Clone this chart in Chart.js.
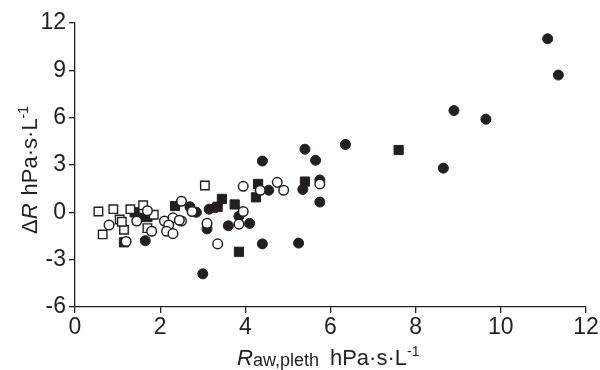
<!DOCTYPE html>
<html>
<head>
<meta charset="utf-8">
<script src="https://cdn.jsdelivr.net/npm/chart.js@4.4.0/dist/chart.umd.min.js"></script>
<style>
  html, body { margin: 0; padding: 0; background: #fff; }
  #wrap { width: 600px; height: 370px; }
</style>
</head>
<body>
<div id="wrap"><canvas id="chart" width="600" height="370"></canvas></div>
<script>
// tick labels
const xTicks = [0, 2, 4, 6, 8, 10, 12];
const yTicks = [-6, -3, 0, 3, 6, 9, 12];

// filled circles
const filledCircleX = [11.1, 11.35, 8.9, 9.65, 8.65, 6.35, 5.4, 5.65, 4.4, 5.75, 5.35, 5.75, 4.55, 5.25, 4.4, 3.0, 3.1, 3.6, 4.1, 3.85, 3.15, 3.3, 2.7, 2.85, 1.65, 1.5];
const filledCircleY = [11.0, 8.7, 6.45, 5.9, 2.8, 4.3, 4.0, 3.3, 3.25, 2.05, 1.45, 0.65, 1.4, -1.95, -2.0, -3.9, -1.05, -0.85, -0.7, -0.25, 0.2, 0.3, 0.35, 0.0, -1.8, -0.35];

// filled squares
const filledSquareX = [7.6, 5.4, 4.3, 4.25, 3.45, 3.35, 3.75, 3.85, 2.35, 1.4, 1.15, 1.7];
const filledSquareY = [3.95, 1.95, 1.8, 0.95, 0.85, 0.35, 0.5, -2.5, 0.4, 0.0, -1.9, -0.3];

// open circles
const openCircleX = [5.75, 4.75, 4.9, 4.35, 3.95, 3.95, 3.85, 3.1, 3.35, 2.5, 2.5, 2.75, 2.1, 2.3, 2.45, 2.2, 2.15, 2.3, 1.7, 1.45, 0.8, 1.8, 1.2];
const openCircleY = [1.8, 1.9, 1.4, 1.4, 1.65, 0.05, -0.75, -0.7, -2.0, 0.7, -0.55, 0.05, -0.55, -0.35, -0.5, -0.8, -1.2, -1.35, 0.1, -0.55, -0.8, -1.2, -1.85];

// open squares
const openSquareX = [0.55, 0.9, 1.05, 1.3, 1.6, 1.85, 1.15, 0.65, 1.7, 3.05, 1.1];
const openSquareY = [0.05, 0.2, -0.45, 0.2, 0.45, -0.15, -1.1, -1.4, -1.0, 1.7, -0.6];

const INK = '#231f20';
const FONT = "'Liberation Sans', Arial, sans-serif";

function pts(xs, ys) {
    return xs.map((x, i) => ({ x: x, y: ys[i] }));
}

// draws a row of text pieces one after another (italic, sub/superscript)
function drawRuns(ctx, runs, x0, y0) {
    let x = x0;
    runs.forEach(r => {
        ctx.font = `${r.italic ? 'italic ' : ''}${r.size}px ${FONT}`;
        ctx.fillText(r.text, x, y0 + (r.dy || 0));
        x += ctx.measureText(r.text).width + (r.gap || 0);
    });
}

const axisTitles = {
    id: 'axisTitles',
    afterDraw(chart) {
        const ctx = chart.ctx;
        ctx.save();
        ctx.fillStyle = INK;
        ctx.textBaseline = 'alphabetic';
        ctx.textAlign = 'left';

        drawRuns(ctx, [
            { text: 'R', size: 22, italic: true },
            { text: 'aw,pleth', size: 18, dy: 1, gap: 11 },
            { text: 'hPa·s·L', size: 22 },
            { text: '-1', size: 14, dy: -9 }
        ], 237, 365);

        ctx.translate(37, 234);
        ctx.rotate(-Math.PI / 2);
        drawRuns(ctx, [
            { text: 'Δ', size: 22 },
            { text: 'R', size: 22, italic: true, gap: 8 },
            { text: 'hPa·s·L', size: 22 },
            { text: '-1', size: 14, dy: -9 }
        ], 0, 0);
        ctx.restore();
    }
};

new Chart(document.getElementById('chart'), {
    type: 'scatter',
    data: {
        datasets: [
            { data: pts(openCircleX, openCircleY), pointStyle: 'circle', pointRadius: 4.8, backgroundColor: '#fff', borderColor: INK, borderWidth: 1.5, order: 0 },
            { data: pts(openSquareX, openSquareY), pointStyle: 'rect', pointRadius: 6, backgroundColor: '#fff', borderColor: INK, borderWidth: 1.4, order: 1 },
            { data: pts(filledCircleX, filledCircleY), pointStyle: 'circle', pointRadius: 5, backgroundColor: INK, borderColor: INK, borderWidth: 1, order: 2 },
            { data: pts(filledSquareX, filledSquareY), pointStyle: 'rect', pointRadius: 6.5, backgroundColor: INK, borderColor: INK, borderWidth: 1, order: 3 }
        ]
    },
    options: {
        responsive: false,
        animation: false,
        clip: false,
        layout: { padding: { left: 0, right: 14, top: 23, bottom: 0 } },
        plugins: { legend: { display: false }, tooltip: { enabled: false } },
        elements: { point: { hoverRadius: 5 } },
        scales: {
            x: {
                type: 'linear', min: 0, max: 12,
                afterBuildTicks: s => { s.ticks = xTicks.map(v => ({ value: v })); },
                afterFit: s => { s.height = 63; },
                grid: { drawOnChartArea: false, color: INK, tickLength: 6, lineWidth: 1.3 },
                border: { color: INK, width: 1.3 },
                ticks: { font: { family: FONT, size: 23 }, color: INK, padding: 1, maxRotation: 0 }
            },
            y: {
                type: 'linear', min: -6, max: 12,
                afterBuildTicks: s => { s.ticks = yTicks.map(v => ({ value: v })); },
                afterFit: s => { s.width = 75; },
                grid: { drawOnChartArea: false, color: INK, tickLength: 6, lineWidth: 1.3 },
                border: { color: INK, width: 1.3 },
                ticks: { font: { family: FONT, size: 23 }, color: INK, padding: 3 }
            }
        }
    },
    plugins: [axisTitles]
});
</script>
</body>
</html>
